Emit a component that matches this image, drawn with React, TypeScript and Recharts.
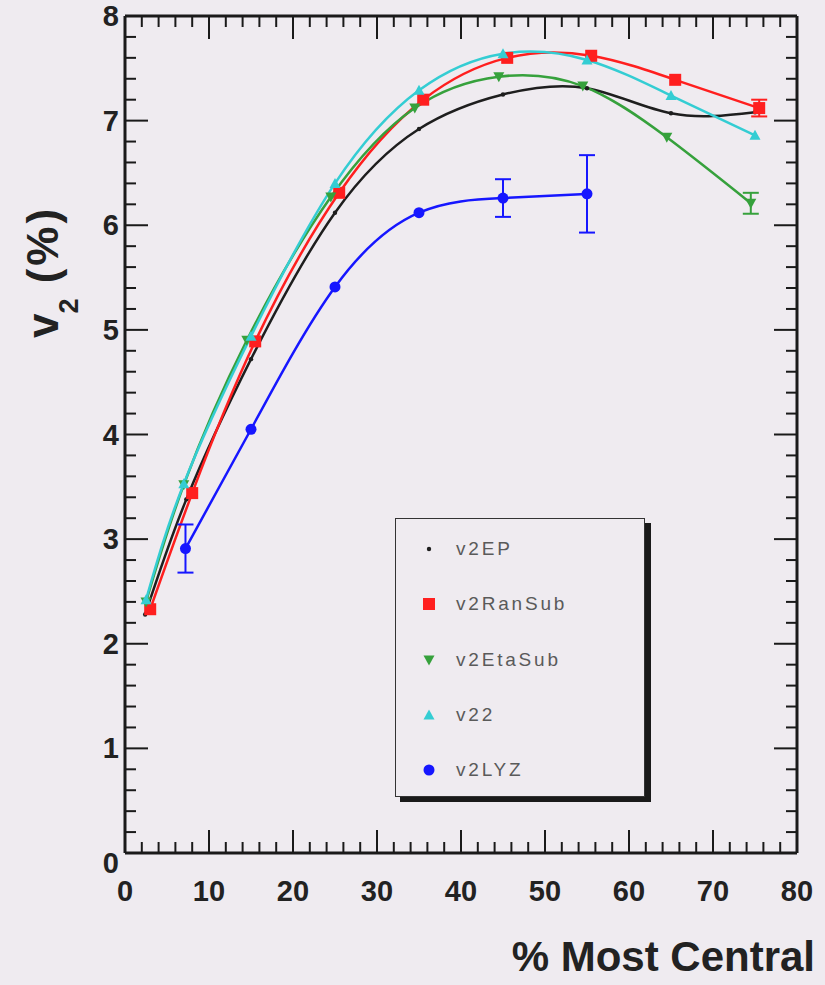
import React from "react";
import {
  ComposedChart,
  Line,
  XAxis,
  YAxis,
  ErrorBar,
  Label,
} from "recharts";

// centrality bins (per series, markers are slightly shifted in the picture)
const epX = [2.4, 7.3, 15, 25, 35, 45, 55, 65, 75];
const epV2 = [2.28, 3.38, 4.72, 6.12, 6.92, 7.25, 7.31, 7.07, 7.08];

const ranSubX = [3.0, 8.0, 15.5, 25.5, 35.5, 45.5, 55.5, 65.5, 75.5];
const ranSubV2 = [2.33, 3.44, 4.89, 6.31, 7.2, 7.6, 7.62, 7.39, 7.12];
const ranSubErr = [null, null, null, null, null, null, null, null, 0.08];

const etaSubX = [2.5, 7.0, 14.5, 24.5, 34.5, 44.5, 54.5, 64.5, 74.5];
const etaSubV2 = [2.4, 3.52, 4.9, 6.27, 7.12, 7.42, 7.33, 6.84, 6.21];
const etaSubErr = [null, null, null, null, null, null, null, null, 0.1];

const v22X = [2.5, 7.0, 15, 25, 35, 45, 55, 65, 75];
const v22V2 = [2.42, 3.53, 4.94, 6.4, 7.29, 7.64, 7.58, 7.24, 6.86];

const lyzX = [7.2, 15, 25, 35, 45, 55];
const lyzV2 = [2.91, 4.05, 5.41, 6.12, 6.26, 6.3];
const lyzErr = [0.23, null, null, null, 0.18, 0.37];

const xMajor = [0, 10, 20, 30, 40, 50, 60, 70, 80];
const yMajor = [0, 1, 2, 3, 4, 5, 6, 7, 8];

const xTicks: number[] = [];
for (let i = 0; i <= 40; i++) xTicks.push(i * 2);
const yTicks: number[] = [];
for (let i = 0; i <= 40; i++) yTicks.push(Math.round(i * 2) / 10);

const toPoints = (xs: number[], ys: number[], errs?: (number | null)[]) =>
  xs.map((x, i) => ({ x, y: ys[i], err: errs ? errs[i] ?? undefined : undefined }));

const BG = "#efebf0";
const FONT = "'Liberation Sans', Arial, Helvetica, sans-serif";
const AXIS = "#1a1a1a";

const series = [
  { name: "v2EP", color: "#1e1e1e", shape: "dot", data: toPoints(epX, epV2) },
  { name: "v2RanSub", color: "#ff1f1f", shape: "square", data: toPoints(ranSubX, ranSubV2, ranSubErr) },
  { name: "v2EtaSub", color: "#36a13c", shape: "down", data: toPoints(etaSubX, etaSubV2, etaSubErr) },
  { name: "v22", color: "#34cdd3", shape: "up", data: toPoints(v22X, v22V2) },
  { name: "v2LYZ", color: "#1616ff", shape: "circle", data: toPoints(lyzX, lyzV2, lyzErr) },
];

function Marker({ cx, cy, shape, color }: any) {
  if (cx == null || cy == null) return null;
  if (shape === "dot") return <circle cx={cx} cy={cy} r={2.2} fill={color} />;
  if (shape === "square")
    return <rect x={cx - 6} y={cy - 6} width={12} height={12} fill={color} />;
  if (shape === "down")
    return (
      <polygon
        points={`${cx - 5.5},${cy - 4.5} ${cx + 5.5},${cy - 4.5} ${cx},${cy + 5.5}`}
        fill={color}
      />
    );
  if (shape === "up")
    return (
      <polygon
        points={`${cx - 5.5},${cy + 4.5} ${cx + 5.5},${cy + 4.5} ${cx},${cy - 5.5}`}
        fill={color}
      />
    );
  return <circle cx={cx} cy={cy} r={5.5} fill={color} />;
}

function XTick({ x, y, payload, side }: any) {
  const v = payload.value;
  const major = xMajor.includes(v);
  const len = major ? 23 : 11;
  const dir = side === "bottom" ? -1 : 1;
  return (
    <g>
      <line x1={x} y1={y} x2={x} y2={y + dir * len} stroke={AXIS} strokeWidth={2} />
      {side === "bottom" && major && (
        <text
          x={x}
          y={y + 48}
          textAnchor="middle"
          fontFamily={FONT}
          fontWeight="bold"
          fontSize={29}
          fill="#222"
        >
          {v}
        </text>
      )}
    </g>
  );
}

function YTick({ x, y, payload, side }: any) {
  const v = payload.value;
  const major = yMajor.includes(v);
  const len = major ? 23 : 11;
  const dir = side === "left" ? 1 : -1;
  return (
    <g>
      <line x1={x} y1={y} x2={x + dir * len} y2={y} stroke={AXIS} strokeWidth={2} />
      {side === "left" && major && (
        <text
          x={x - 6}
          y={y + (v === 0 ? 20 : 10)}
          textAnchor="end"
          fontFamily={FONT}
          fontWeight="bold"
          fontSize={29}
          fill="#222"
        >
          {v}
        </text>
      )}
    </g>
  );
}

function LegendBox() {
  return (
    <div style={{ position: "absolute", left: 395, top: 518, width: 256, height: 284 }}>
      <div
        style={{
          position: "absolute",
          left: 5,
          top: 5,
          width: 251,
          height: 279,
          background: "#1a1a1a",
        }}
      />
      <div
        style={{
          position: "absolute",
          left: 0,
          top: 0,
          width: 250,
          height: 279,
          background: BG,
          border: "1.5px solid #333",
          boxSizing: "border-box",
        }}
      >
        {series.map((s, i) => (
          <div
            key={s.name}
            style={{
              position: "absolute",
              left: 22,
              top: 18 + i * 55.3,
              height: 24,
              display: "flex",
              alignItems: "center",
            }}
          >
            <svg width={22} height={22}>
              <Marker cx={11} cy={11} shape={s.shape} color={s.color} />
            </svg>
            <span
              style={{
                marginLeft: 16,
                fontFamily: FONT,
                fontSize: 19,
                letterSpacing: 2.8,
                color: "#5a5a5a",
              }}
            >
              {s.name}
            </span>
          </div>
        ))}
      </div>
    </div>
  );
}

function YTitle() {
  return (
    <text
      transform="translate(58,272) rotate(-90)"
      textAnchor="middle"
      fontFamily={FONT}
      fontWeight="bold"
      fontSize={44}
      fill="#222"
    >
      v
      <tspan fontSize={27} dy={20}>
        2
      </tspan>
      <tspan dy={-20} letterSpacing={3}>
        {" "}(%)
      </tspan>
    </text>
  );
}

export default function App() {
  return (
    <div
      style={{
        position: "absolute",
        left: 0,
        top: 0,
        width: 825,
        height: 985,
        background: BG,
      }}
    >
      <ComposedChart
        width={825}
        height={985}
        margin={{ top: 15, right: 27, bottom: 0, left: 0 }}
      >
        <XAxis
          xAxisId="bottom"
          dataKey="x"
          type="number"
          domain={[0, 80]}
          ticks={xTicks}
          interval={0}
          allowDataOverflow
          height={132}
          tickSize={0}
          tickMargin={0}
          tickLine={false}
          axisLine={{ stroke: AXIS, strokeWidth: 3 }}
          tick={<XTick side="bottom" />}
        >
          <Label
            value="% Most Central"
            content={({ viewBox }: any) => (
              <text
                x={viewBox.x + viewBox.width + 18}
                y={viewBox.y + 118}
                textAnchor="end"
                fontFamily={FONT}
                fontWeight="bold"
                fontSize={42}
                fill="#222"
              >
                % Most Central
              </text>
            )}
          />
        </XAxis>
        <XAxis
          xAxisId="top"
          orientation="top"
          dataKey="x"
          type="number"
          domain={[0, 80]}
          ticks={xTicks}
          interval={0}
          allowDataOverflow
          height={1}
          tickSize={0}
          tickMargin={0}
          tickLine={false}
          axisLine={{ stroke: AXIS, strokeWidth: 3 }}
          tick={<XTick side="top" />}
        />
        <YAxis
          yAxisId="left"
          type="number"
          domain={[0, 8]}
          ticks={yTicks}
          interval={0}
          allowDataOverflow
          width={125}
          tickSize={0}
          tickMargin={0}
          tickLine={false}
          axisLine={{ stroke: AXIS, strokeWidth: 3 }}
          tick={<YTick side="left" />}
        >
          <Label content={<YTitle />} />
        </YAxis>
        <YAxis
          yAxisId="right"
          orientation="right"
          type="number"
          domain={[0, 8]}
          ticks={yTicks}
          interval={0}
          allowDataOverflow
          width={1}
          tickSize={0}
          tickMargin={0}
          tickLine={false}
          axisLine={{ stroke: AXIS, strokeWidth: 3 }}
          tick={<YTick side="right" />}
        />
        {/* invisible copy so the mirrored top/right frame axes get drawn */}
        <Line
          xAxisId="top"
          yAxisId="right"
          data={series[3].data}
          dataKey="y"
          stroke="none"
          dot={false}
          activeDot={false}
          legendType="none"
          isAnimationActive={false}
        />
        {series.map((s) => (
          <Line
            key={s.name}
            xAxisId="bottom"
            yAxisId="left"
            data={s.data}
            dataKey="y"
            name={s.name}
            type="natural"
            stroke={s.color}
            strokeWidth={2.5}
            dot={(p: any) => (
              <Marker key={`${s.name}-${p.index}`} cx={p.cx} cy={p.cy} shape={s.shape} color={s.color} />
            )}
            activeDot={false}
            isAnimationActive={false}
          >
            <ErrorBar dataKey="err" direction="y" width={8} stroke={s.color} strokeWidth={2} />
          </Line>
        ))}
      </ComposedChart>
      <LegendBox />
    </div>
  );
}
